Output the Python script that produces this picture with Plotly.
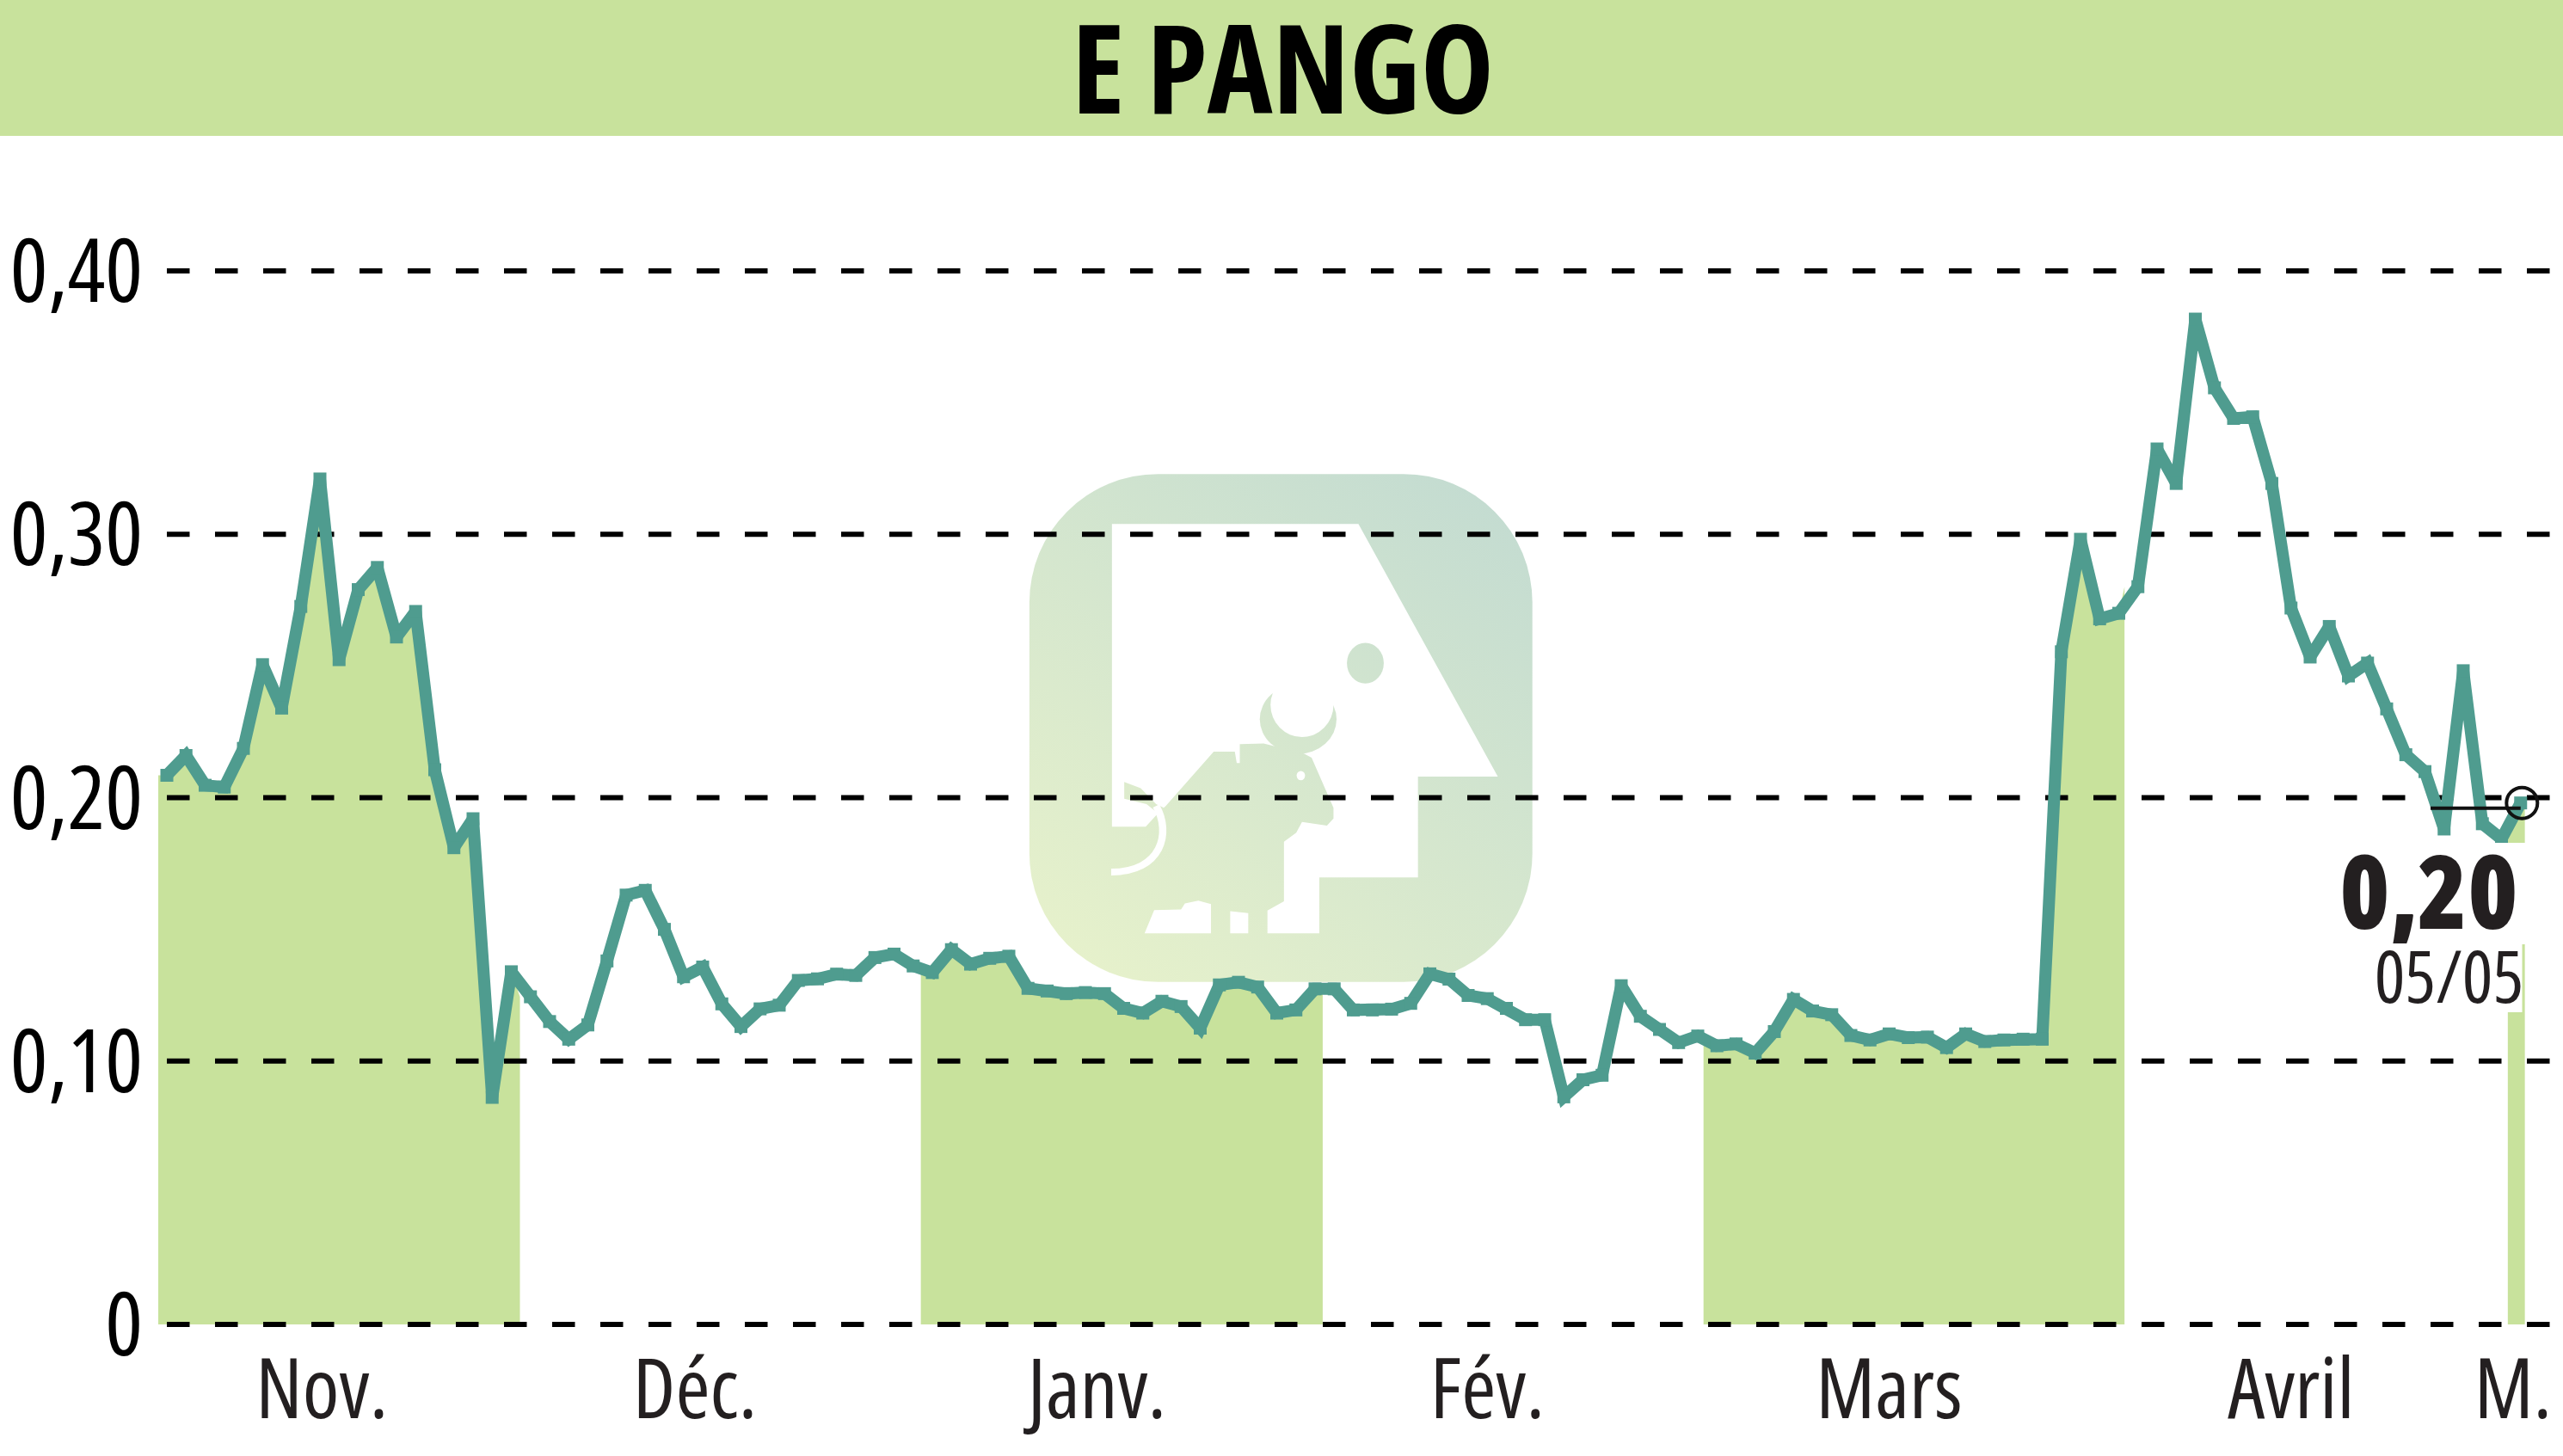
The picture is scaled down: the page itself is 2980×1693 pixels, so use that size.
import plotly.graph_objects as go
import base64

title = "E PANGO"
prices = [
 .2085,.216,.2047,.204,.2187,.2505,.234,.2726,.321,.2524,.279,.2874,.261,.2707,.2106,.181,.192,.0862,.1339,.1244,
 .115,.1083,.1137,.138,.163,.1648,.150,.132,.1357,.1217,.1131,.1198,.1212,.1306,.1312,.133,.1325,
 .1393,.1406,.1361,.1336,.1423,.1368,.139,.1398,.1276,.1266,.1256,.126,.1256,.12,.1182,.1227,.1207,.1125,.1289,
 .1299,.1281,.1182,.1194,.1274,.1274,.1194,.1194,.1197,.1219,.1331,.1311,.1249,.1237,.12,.1157,.1157,.0864,.0929,
 .0946,.1286,.117,.112,.107,.1095,.1058,
 .1065,.103,.1112,.1234,.119,.1176,.1097,.108,.1103,.1089,.1091,.1051,.1103,.1074,.108,.1083,.1083,.2554,.2981,
 .2679,.27,.2801,.3324,.3193,.3817,.3556,.344,.3446,.3193,.272,.2534,.265,.2462,.2511,.2337,.2163,.2099,.1881,
 .2482,.1901,.1843,.198]
days = list(range(len(prices)))
y_ticks = [0, .1, .2, .3, .4]
y_labels = ["0", "0,10", "0,20", "0,30", "0,40"]
month_pos = [8.1, 27.6, 48.6, 69, 90, 111, 122.6]
month_labels = ["Nov.", "Déc.", "Janv.", "Fév.", "Mars", "Avril", "M."]
shaded_months = [(-0.45, 18.45), (39.4, 60.4), (80.3, 102.3), (122.33, 123.22)]
last_label = "0,20"
last_date = "05/05"

W, H = 2980, 1693
GREEN = "#C8E29C"
TEAL = "#4F9C8F"
NARROW = "Open Sans"
INK = "#231F20"

X0, DX = 194, 22.25
Y0, DY = 1540, 3062.5
def dx(px): return (px - X0) / DX
def dy(px): return (Y0 - px) / DY
L, T, B = 184, 162, 147

fig = go.Figure()

# shaded alternate months, under the line
for a, b in shaded_months:
    idx = [i for i in days if a <= i <= b]
    prev = prices[max(idx[0] - 1, 0)]
    nxt = prices[min(idx[-1] + 1, len(prices) - 1)]
    fig.add_trace(go.Scatter(
        x=[a] + idx + [b], y=[prev] + [prices[i] for i in idx] + [nxt],
        mode="lines", line=dict(width=0), fill="tozeroy", fillcolor=GREEN,
        hoverinfo="skip", showlegend=False))

# dashed grid lines, drawn over the shading
for v in y_ticks:
    fig.add_trace(go.Scatter(
        x=[0, dx(W + 5)], y=[v, v], mode="lines",
        line=dict(color="#000000", width=6, dash="26.5px,29.5px"),
        hoverinfo="skip", showlegend=False))

# price line
fig.add_trace(go.Scatter(
    x=days, y=prices, mode="lines+markers",
    line=dict(color=TEAL, width=14),
    marker=dict(color=TEAL, size=15, symbol="square"),
    showlegend=False))

# last value leader and ring
fig.add_trace(go.Scatter(
    x=[dx(2826), days[-1]], y=[prices[-1] - .002, prices[-1] - .002], mode="lines",
    line=dict(color="#111111", width=4), hoverinfo="skip", showlegend=False))
fig.add_trace(go.Scatter(
    x=[days[-1] + .07], y=[prices[-1]], mode="markers",
    marker=dict(size=36, color="rgba(0,0,0,0)", line=dict(color="#111111", width=4)),
    hoverinfo="skip", showlegend=False))

# watermark logo
svg = """<svg xmlns="http://www.w3.org/2000/svg" viewBox="0 0 1568 1566" preserveAspectRatio="none" width="1568" height="1566">
<defs><linearGradient id="g" gradientUnits="userSpaceOnUse" x1="250" y1="1450" x2="1300" y2="150">
<stop offset="0" stop-color="#E6F1CB"/><stop offset="1" stop-color="#C4DCD1"/></linearGradient></defs>
<rect x="105" y="75" width="1310" height="1423" rx="335" ry="360" fill="url(#g)"/>
<polygon fill="#fff" points="320,215 962,215 1325,923 1117,923 1117,1205 860,1205 860,1362 725,1362 725,1298 768,1272 768,1105 800,1080 815,1050 880,1060 897,1040 897,1010 840,870 820,858 715,830 653,832 653,885 645,885 640,853 585,853 460,1005 445,1020 408,1063 320,1063"/>
<polygon fill="#fff" points="405,1362 430,1297 500,1295 510,1278 545,1270 578,1280 578,1362"/>
<polygon fill="#fff" points="628,1300 675,1305 675,1362 628,1362"/>
<ellipse cx="805" cy="762" rx="100" ry="97" fill="url(#g)"/>
<ellipse cx="815" cy="722" rx="82" ry="90" fill="#fff"/>
<ellipse cx="980" cy="605" rx="48" ry="57" fill="url(#g)"/>
<ellipse cx="812" cy="920" rx="11" ry="13" fill="#fff"/>
<polygon fill="url(#g)" points="352,938 395,955 435,1000 455,1010 445,1030 410,1000 352,985"/>
<path d="M 435 1005 C 475 1080 450 1190 318 1190" fill="none" stroke="#fff" stroke-width="19"/>
</svg>"""
logo = "data:image/svg+xml;base64," + base64.b64encode(svg.encode()).decode()

fig.update_layout(
    width=W, height=H, autosize=False,
    margin=dict(l=L, r=0, t=T, b=B, pad=0),
    paper_bgcolor="#ffffff", plot_bgcolor="rgba(0,0,0,0)",
    showlegend=False,
    title=dict(text=title, x=0.5005, xanchor="center", xref="container", y=1 - 82 / H, yanchor="middle",
               automargin=False,
               font=dict(family=NARROW, size=144, color="#000000", weight=700)),
    images=[dict(source=logo, xref="x", yref="y", x=dx(1150), y=dy(520), sizex=700 / DX, sizey=650 / DY,
                 sizing="stretch", xanchor="left", yanchor="top", layer="below")],
    shapes=[
        dict(type="rect", xref="paper", yref="paper", x0=-L / (W - L), x1=1,
             y0=1 + (T - 158) / (H - T - B), y1=1 + T / (H - T - B),
             fillcolor=GREEN, line_width=0, layer="below"),
        dict(type="rect", xref="x", yref="y", x0=dx(2700), x1=dx(2938), y0=dy(1098), y1=dy(980),
             fillcolor="#ffffff", line_width=0, layer="above"),
        dict(type="rect", xref="x", yref="y", x0=dx(2700), x1=dx(2932.5), y0=dy(1177), y1=dy(1098),
             fillcolor="#ffffff", line_width=0, layer="above"),
    ],
    annotations=[
        dict(text=last_label, xref="x", yref="y", x=dx(2824), y=dy(1034), xanchor="center", yanchor="middle",
             showarrow=False, font=dict(family=NARROW, size=118, color=INK, weight=800)),
        dict(text=last_date, xref="x", yref="y", x=dx(2847), y=dy(1133), xanchor="center", yanchor="middle",
             showarrow=False, font=dict(family=NARROW, size=84, color=INK)),
    ],
    xaxis=dict(range=[dx(L), dx(W)], tickvals=month_pos, ticktext=month_labels, showgrid=False, zeroline=False,
               showline=False, ticks="", tickangle=0, automargin=False, ticklabelstandoff=5,
               tickfont=dict(family=NARROW, size=97, color=INK)),
    yaxis=dict(range=[dy(H - B), dy(T)], tickvals=y_ticks, ticktext=y_labels, showgrid=False, zeroline=False,
               showline=False, ticks="", automargin=False, ticklabelstandoff=17,
               tickfont=dict(family=NARROW, size=103, color="#000000")),
)
fig.write_html("out.html", config=dict(displayModeBar=False),
               post_script="document.body.style.margin='0';document.documentElement.style.overflow='hidden';"
               "var s=document.createElement('style');s.textContent='svg text{font-stretch:75%!important}';document.head.appendChild(s);")
